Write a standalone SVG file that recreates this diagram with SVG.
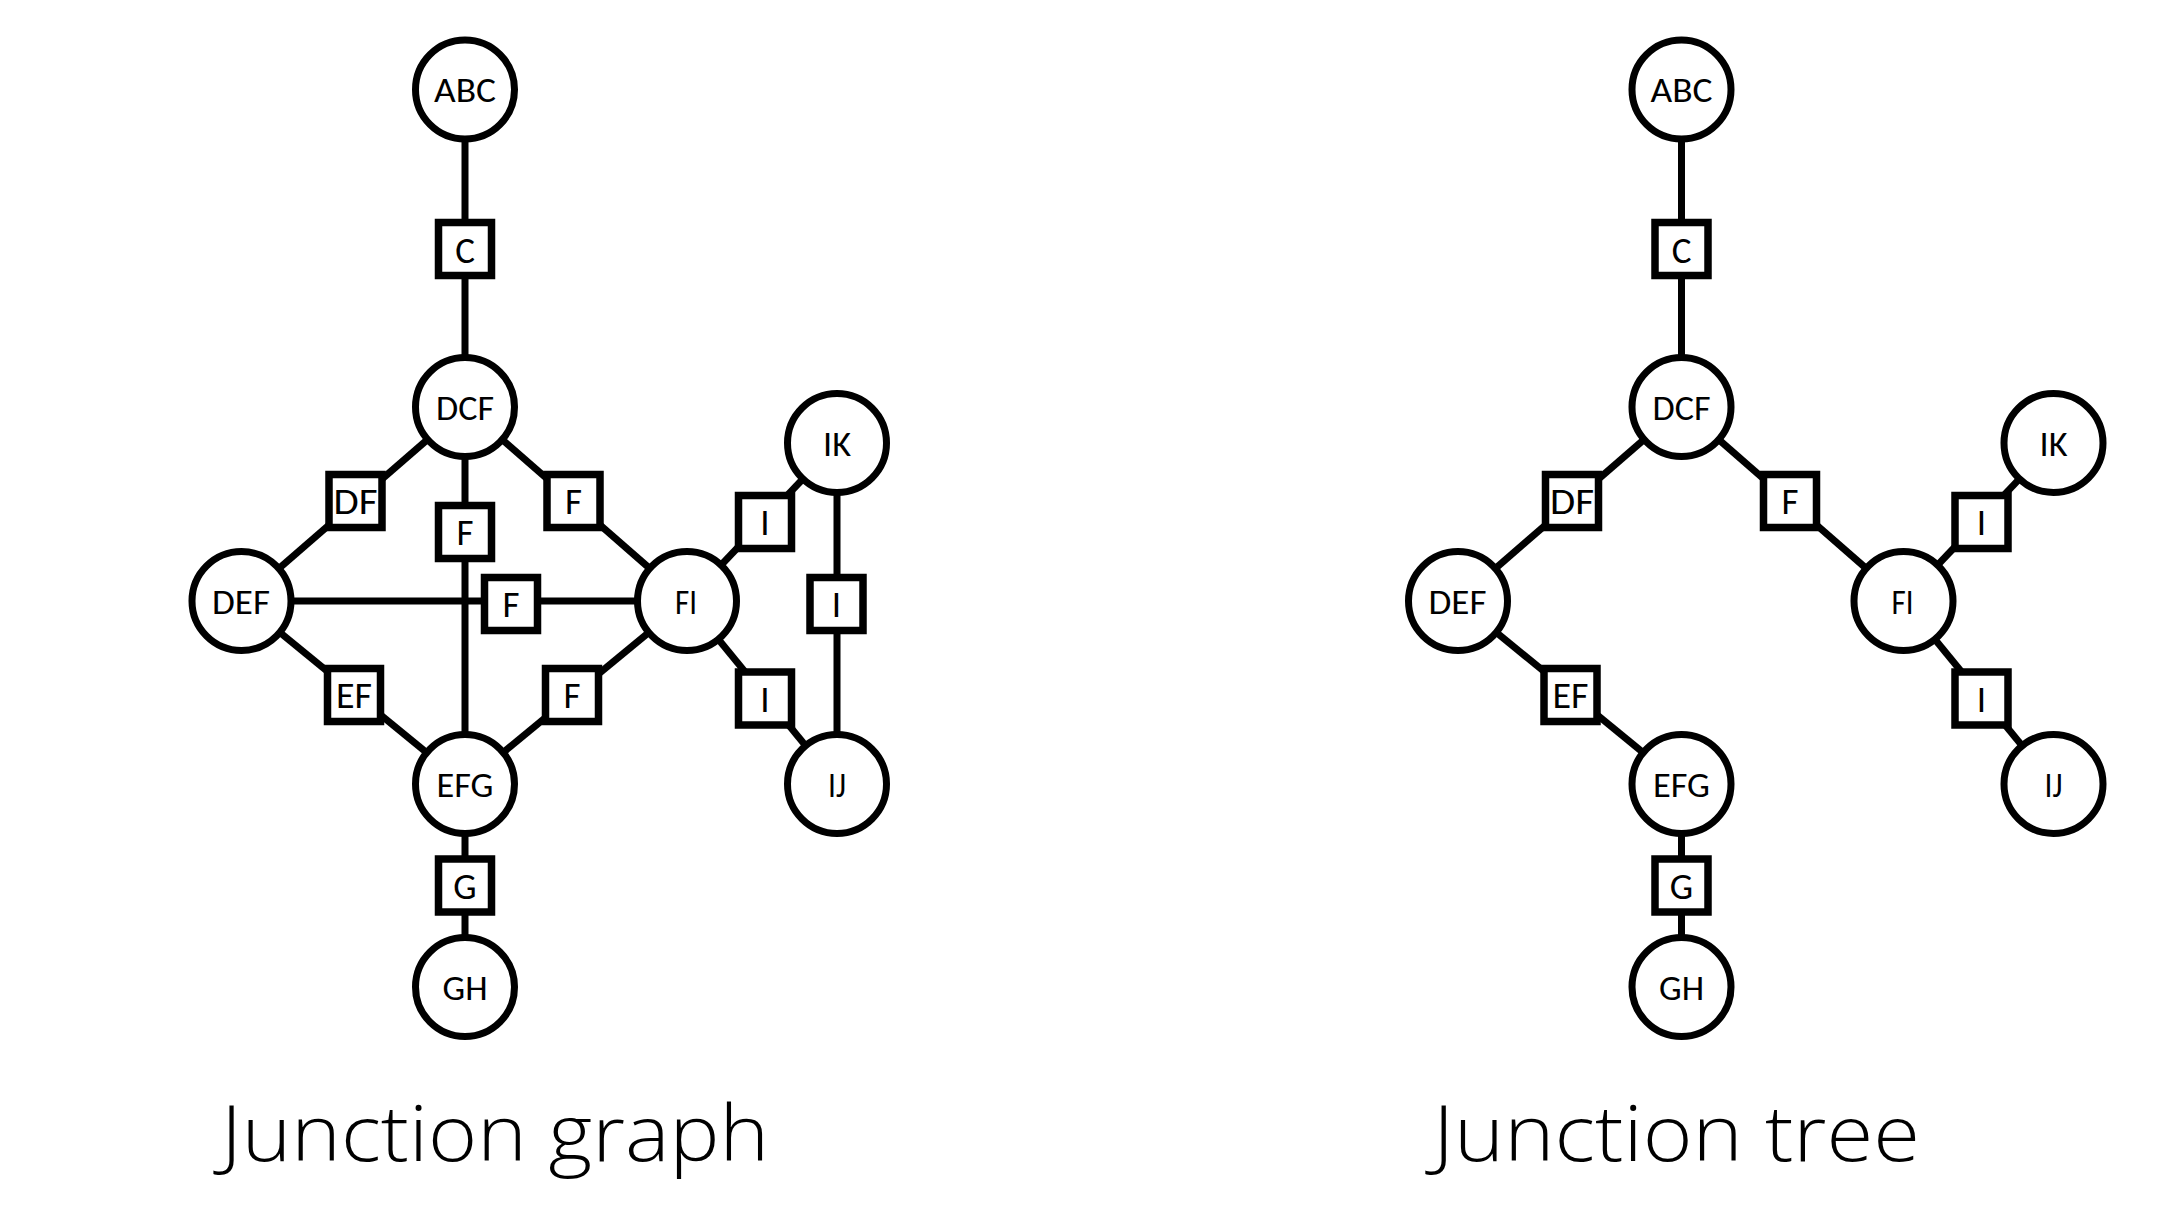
<svg xmlns="http://www.w3.org/2000/svg" width="2180" height="1208" viewBox="0 0 2180 1208">
<style>
.e{stroke:#000;stroke-width:7;fill:none}
.n circle{fill:#fff;stroke:#000;stroke-width:7}
.s rect{fill:#fff;stroke:#000;stroke-width:7.5}
.n text,.s text{font-family:Carlito,Calibri,"Open Sans",sans-serif;text-anchor:middle;fill:#000}
.n text{font-size:35px}
.s text{font-size:37px}
.t{font-family:"Open Sans",Lato,sans-serif;font-weight:300;font-size:78px;fill:#000}
</style>
<rect width="2180" height="1208" fill="#fff"/>
<g id="connectors">
<line class="e" x1="465" y1="89.5" x2="465" y2="407"/>
<line class="e" x1="465" y1="407" x2="241.5" y2="601"/>
<line class="e" x1="465" y1="407" x2="687" y2="601"/>
<line class="e" x1="465" y1="407" x2="465" y2="784"/>
<line class="e" x1="241.5" y1="601" x2="687" y2="601"/>
<line class="e" x1="241.5" y1="601" x2="465" y2="784"/>
<line class="e" x1="687" y1="601" x2="465" y2="784"/>
<line class="e" x1="687" y1="601" x2="837" y2="443"/>
<line class="e" x1="687" y1="601" x2="837" y2="784"/>
<line class="e" x1="837" y1="443" x2="837" y2="784"/>
<line class="e" x1="465" y1="784" x2="465" y2="987"/>
<line class="e" x1="1681.5" y1="89.5" x2="1681.5" y2="407"/>
<line class="e" x1="1681.5" y1="407" x2="1458" y2="601"/>
<line class="e" x1="1681.5" y1="407" x2="1903.5" y2="601"/>
<line class="e" x1="1458" y1="601" x2="1681.5" y2="784"/>
<line class="e" x1="1903.5" y1="601" x2="2053.5" y2="443"/>
<line class="e" x1="1903.5" y1="601" x2="2053.5" y2="784"/>
<line class="e" x1="1681.5" y1="784" x2="1681.5" y2="987"/>
</g>
<g id="graph-nodes">
<g id="g-ABC" class="n"><circle cx="465" cy="89.5" r="49.5"/><text x="465" y="102" textLength="62" lengthAdjust="spacingAndGlyphs">ABC</text></g>
<g id="g-DCF" class="n"><circle cx="465" cy="407" r="49.5"/><text x="465" y="420" textLength="58" lengthAdjust="spacingAndGlyphs">DCF</text></g>
<g id="g-DEF" class="n"><circle cx="241.5" cy="601" r="49.5"/><text x="241" y="614" textLength="58" lengthAdjust="spacingAndGlyphs">DEF</text></g>
<g id="g-FI" class="n"><circle cx="687" cy="601" r="49.5"/><text x="686" y="614" textLength="22" lengthAdjust="spacingAndGlyphs">FI</text></g>
<g id="g-IK" class="n"><circle cx="837" cy="443" r="49.5"/><text x="837" y="456" textLength="28" lengthAdjust="spacingAndGlyphs">IK</text></g>
<g id="g-EFG" class="n"><circle cx="465" cy="784" r="49.5"/><text x="465" y="797" textLength="57" lengthAdjust="spacingAndGlyphs">EFG</text></g>
<g id="g-IJ" class="n"><circle cx="837" cy="784" r="49.5"/><text x="837" y="797" textLength="18" lengthAdjust="spacingAndGlyphs">IJ</text></g>
<g id="g-GH" class="n"><circle cx="465" cy="987" r="49.5"/><text x="465" y="1000" textLength="45" lengthAdjust="spacingAndGlyphs">GH</text></g>
<g id="g-sep-C" class="s"><rect x="438.5" y="222.5" width="53" height="53"/><text x="465" y="263">C</text></g>
<g id="g-sep-DF" class="s"><rect x="329" y="474.5" width="53" height="53"/><text x="355.5" y="514" textLength="44" lengthAdjust="spacingAndGlyphs">DF</text></g>
<g id="g-sep-F1" class="s"><rect x="438.5" y="505.5" width="53" height="53"/><text x="465" y="545">F</text></g>
<g id="g-sep-F2" class="s"><rect x="547" y="474.5" width="53" height="53"/><text x="573.5" y="514">F</text></g>
<g id="g-sep-I1" class="s"><rect x="738.5" y="495.5" width="53" height="53"/><text x="765" y="535">I</text></g>
<g id="g-sep-F3" class="s"><rect x="484.5" y="577.5" width="53" height="53"/><text x="511" y="617">F</text></g>
<g id="g-sep-I2" class="s"><rect x="810" y="577.5" width="53" height="53"/><text x="836.5" y="617">I</text></g>
<g id="g-sep-EF" class="s"><rect x="327.5" y="668.5" width="53" height="53"/><text x="354" y="708" textLength="36" lengthAdjust="spacingAndGlyphs">EF</text></g>
<g id="g-sep-F4" class="s"><rect x="545.5" y="668.5" width="53" height="53"/><text x="572" y="708">F</text></g>
<g id="g-sep-I3" class="s"><rect x="738.5" y="672" width="53" height="53"/><text x="765" y="711.5">I</text></g>
<g id="g-sep-G" class="s"><rect x="438.5" y="859" width="53" height="53"/><text x="465" y="898.5">G</text></g>
</g>
<g id="tree-nodes">
<g id="t-ABC" class="n"><circle cx="1681.5" cy="89.5" r="49.5"/><text x="1681.5" y="102" textLength="62" lengthAdjust="spacingAndGlyphs">ABC</text></g>
<g id="t-DCF" class="n"><circle cx="1681.5" cy="407" r="49.5"/><text x="1681.5" y="420" textLength="58" lengthAdjust="spacingAndGlyphs">DCF</text></g>
<g id="t-DEF" class="n"><circle cx="1458" cy="601" r="49.5"/><text x="1457.5" y="614" textLength="58" lengthAdjust="spacingAndGlyphs">DEF</text></g>
<g id="t-FI" class="n"><circle cx="1903.5" cy="601" r="49.5"/><text x="1902.5" y="614" textLength="22" lengthAdjust="spacingAndGlyphs">FI</text></g>
<g id="t-IK" class="n"><circle cx="2053.5" cy="443" r="49.5"/><text x="2053.5" y="456" textLength="28" lengthAdjust="spacingAndGlyphs">IK</text></g>
<g id="t-EFG" class="n"><circle cx="1681.5" cy="784" r="49.5"/><text x="1681.5" y="797" textLength="57" lengthAdjust="spacingAndGlyphs">EFG</text></g>
<g id="t-IJ" class="n"><circle cx="2053.5" cy="784" r="49.5"/><text x="2053.5" y="797" textLength="18" lengthAdjust="spacingAndGlyphs">IJ</text></g>
<g id="t-GH" class="n"><circle cx="1681.5" cy="987" r="49.5"/><text x="1681.5" y="1000" textLength="45" lengthAdjust="spacingAndGlyphs">GH</text></g>
<g id="t-sep-C" class="s"><rect x="1655" y="222.5" width="53" height="53"/><text x="1681.5" y="263">C</text></g>
<g id="t-sep-DF" class="s"><rect x="1545.5" y="474.5" width="53" height="53"/><text x="1572" y="514" textLength="44" lengthAdjust="spacingAndGlyphs">DF</text></g>
<g id="t-sep-F" class="s"><rect x="1763.5" y="474.5" width="53" height="53"/><text x="1790" y="514">F</text></g>
<g id="t-sep-I1" class="s"><rect x="1955" y="495.5" width="53" height="53"/><text x="1981.5" y="535">I</text></g>
<g id="t-sep-EF" class="s"><rect x="1544" y="668.5" width="53" height="53"/><text x="1570.5" y="708" textLength="36" lengthAdjust="spacingAndGlyphs">EF</text></g>
<g id="t-sep-I2" class="s"><rect x="1955" y="672" width="53" height="53"/><text x="1981.5" y="711.5">I</text></g>
<g id="t-sep-G" class="s"><rect x="1655" y="859" width="53" height="53"/><text x="1681.5" y="898.5">G</text></g>
</g>
<g id="titles">
<text class="t" x="221" y="1161" textLength="548" lengthAdjust="spacingAndGlyphs">Junction graph</text>
<text class="t" x="1433" y="1161" textLength="487" lengthAdjust="spacingAndGlyphs">Junction tree</text>
</g>
</svg>
